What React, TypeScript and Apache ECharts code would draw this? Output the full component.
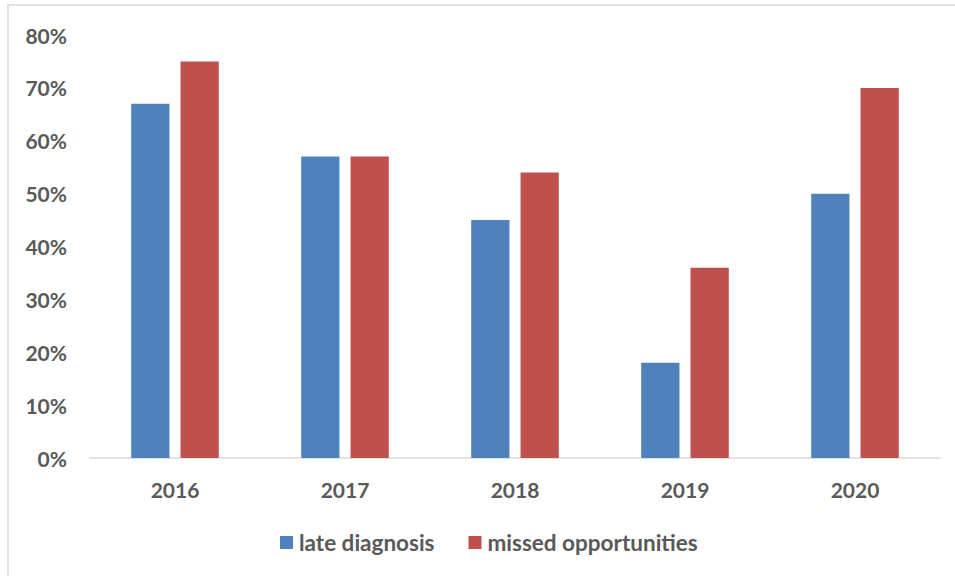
import React, { useEffect, useRef } from "react";
import * as echarts from "echarts";

const years = ["2016", "2017", "2018", "2019", "2020"];
const lateDiagnosis = [0.67, 0.57, 0.45, 0.18, 0.5];
const missedOpportunities = [0.75, 0.57, 0.54, 0.36, 0.7];
const seriesNames = ["late diagnosis", "missed opportunities"];

export default function App() {
  const ref = useRef<HTMLDivElement>(null);
  useEffect(() => {
    document.body.style.margin = "0";
    const chart = echarts.init(ref.current!, null, { renderer: "svg" });
    const font = "Lato, 'Open Sans', sans-serif";
    chart.setOption({
      animation: false,
      backgroundColor: "#ffffff",
      graphic: [
        {
          type: "rect",
          shape: { x: 8, y: 5, width: 960, height: 600 },
          style: { fill: "none", stroke: "#d9d9d9", lineWidth: 1.5 },
          silent: true,
        },
      ],
      grid: { left: 90, right: 15, top: 35, bottom: 118, containLabel: false },
      legend: {
        left: 280,
        top: 531,
        padding: 0,
        itemWidth: 13,
        itemHeight: 13,
        itemGap: 34,
        icon: "rect",
        textStyle: { fontFamily: font, fontWeight: "bold", fontSize: 22.5, color: "#595959", padding: [0, 0, 0, 1] },
        data: seriesNames,
      },
      xAxis: {
        type: "category",
        data: years,
        axisLine: { show: true, lineStyle: { color: "#d9d9d9", width: 1.5 } },
        axisTick: { show: false },
        axisLabel: { fontFamily: font, fontWeight: "bold", fontSize: 21, color: "#595959", margin: 21 },
      },
      yAxis: {
        type: "value",
        min: 0,
        max: 0.8,
        interval: 0.1,
        splitLine: { show: false },
        axisLine: { show: false },
        axisTick: { show: false },
        axisLabel: {
          fontFamily: font,
          fontWeight: "bold",
          fontSize: 21,
          color: "#595959",
          margin: 23,
          formatter: (v: number) => Math.round(v * 100) + "%",
        },
      },
      series: [
        {
          name: seriesNames[0],
          type: "bar",
          data: lateDiagnosis,
          barWidth: "22.5%",
          barGap: "29%",
          itemStyle: { color: "#4f81bd" },
        },
        {
          name: seriesNames[1],
          type: "bar",
          data: missedOpportunities,
          barWidth: "22.5%",
          barGap: "29%",
          itemStyle: { color: "#c0504d" },
        },
      ],
    });
    return () => chart.dispose();
  }, []);
  return <div ref={ref} style={{ width: 955, height: 576 }} />;
}
